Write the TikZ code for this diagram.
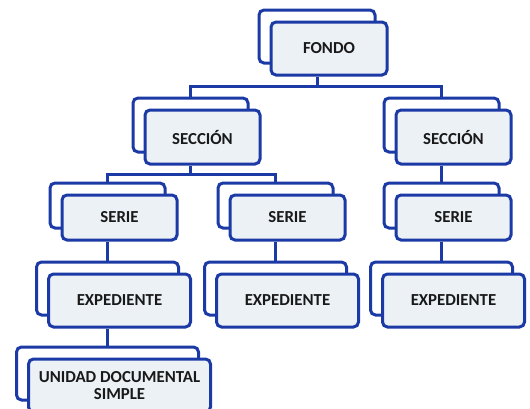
\documentclass[tikz,border=0pt]{standalone}
\usepackage{fontspec}
\setmainfont{Carlito}
\usetikzlibrary{calc}
\definecolor{bcol}{RGB}{28,58,165}
\definecolor{fcol}{RGB}{236,241,246}
\tikzset{
  backbox/.style={draw=bcol, line width=3pt, rounded corners=5pt, fill=white, inner sep=0pt},
  frontbox/.style={draw=bcol, line width=3pt, rounded corners=5pt, fill=fcol, inner sep=0pt, align=center, font=\fontsize{16.8}{17}\selectfont\bfseries, text=black!90},
  conn/.style={draw=bcol, line width=3pt}
}
\newcommand\stackbox[6]{%
  \node[backbox, minimum width=#4, minimum height=#5] (#1b) at (#2,#3) {};
  \node[frontbox, minimum width=#4, minimum height=#5] (#1f) at ($(#1b)+(12,12)$) {#6};
}
\begin{document}
\begin{tikzpicture}[x=1pt,y=-1pt]
\useasboundingbox (0,0) rectangle (530,408);
\clip (0,0) rectangle (530,408);
\fill[white] (0,0) rectangle (530,408);
% nodes
\stackbox{fondo}{317}{36.5}{116pt}{53pt}{FONDO}
\stackbox{secL}{190.5}{125}{115pt}{54pt}{SECCIÓN}
\stackbox{secR}{441.5}{125}{115pt}{54pt}{SECCIÓN}
\stackbox{serL}{107.5}{205.5}{115pt}{45pt}{SERIE}
\stackbox{serM}{275.5}{205.5}{115pt}{45pt}{SERIE}
\stackbox{serR}{441.5}{205.5}{115pt}{45pt}{SERIE}
\stackbox{expL}{107.5}{288.5}{142pt}{53pt}{EXPEDIENTE}
\stackbox{expM}{275.5}{288.5}{142pt}{53pt}{EXPEDIENTE}
\stackbox{expR}{441.5}{288.5}{142pt}{53pt}{EXPEDIENTE}
\stackbox{uds}{107.5}{373.5}{182pt}{53pt}{UNIDAD DOCUMENTAL\\SIMPLE}
% connectors
\coordinate (bus1) at (317,86);
\coordinate (bus2) at (190.5,174);
\draw[conn] (fondob |- fondof.south) -- (bus1);
\draw[conn] (secLb.north) |- (bus1) -| (secRb.north);
\draw[conn] (secLb |- secLf.south) -- (bus2);
\draw[conn] (serLb.north) |- (bus2) -| (serMb.north);
\draw[conn] (secRb |- secRf.south) -- (serRb.north);
\draw[conn] (serLb |- serLf.south) -- (expLb.north);
\draw[conn] (serMb |- serMf.south) -- (expMb.north);
\draw[conn] (serRb |- serRf.south) -- (expRb.north);
\draw[conn] (expLb |- expLf.south) -- (udsb.north);
\end{tikzpicture}
\end{document}
